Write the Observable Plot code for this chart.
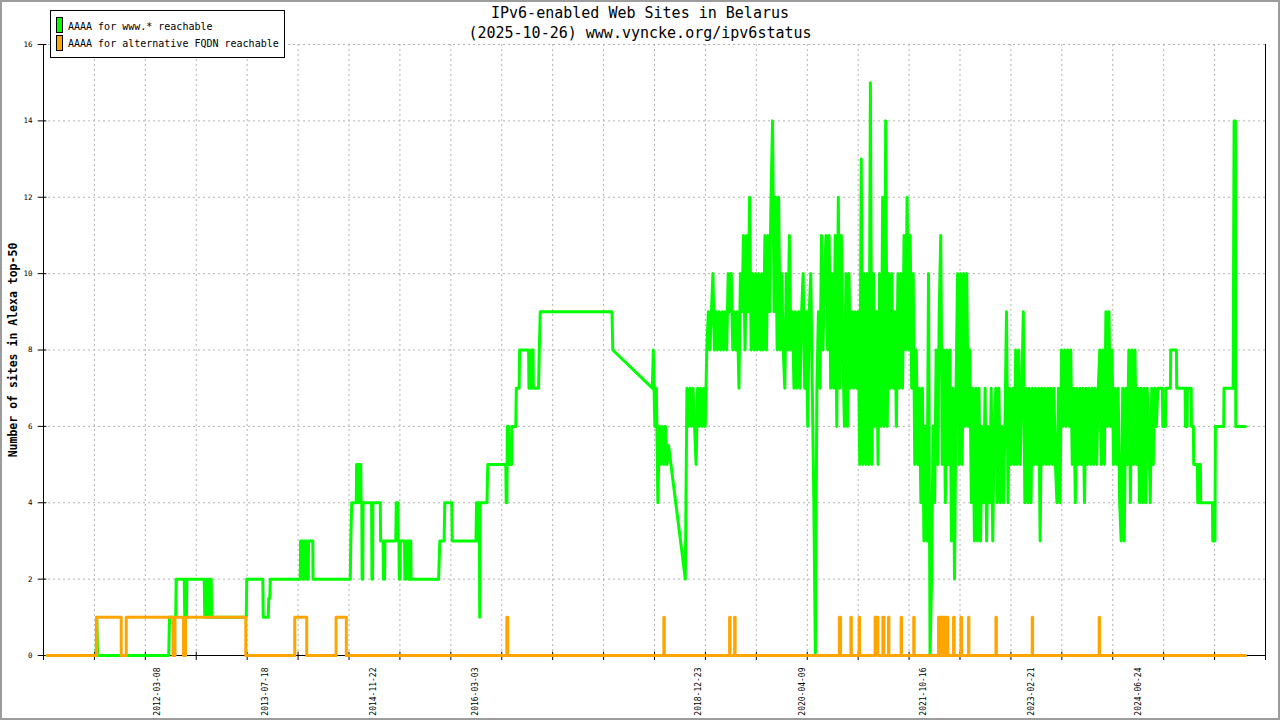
<!DOCTYPE html>
<html>
<head>
<meta charset="utf-8">
<script src="https://cdn.jsdelivr.net/npm/d3@7"></script>
<script src="https://cdn.jsdelivr.net/npm/@observablehq/plot@0.6"></script>
<style>
  html, body { margin: 0; padding: 0; background: #fff; }
  #wrap { position: relative; width: 1280px; height: 720px; background: #fff; overflow: hidden; font-family: "DejaVu Sans Mono", monospace; }
  #chart { position: absolute; left: 0; top: 0; }
  #title { position: absolute; left: 0; top: 3px; width: 1280px; text-align: center; font-size: 15px; line-height: 20px; color: #000; white-space: pre; }
  #ylabel { position: absolute; left: 13px; top: 350px; transform: translate(-50%, -50%) rotate(-90deg); font-size: 11.5px; font-weight: bold; white-space: nowrap; color: #000; }
  #legend { position: absolute; left: 50px; top: 10px; width: 233px; height: 46px; border: 1px solid #000; background: #fff; }
  .sw { position: absolute; left: 5px; width: 5px; height: 14px; border: 1px solid #000; }
  .lt { position: absolute; left: 17px; font-size: 10px; line-height: 12px; white-space: nowrap; color: #000; }
  #frame { position: absolute; left: 0; top: 0; width: 1280px; height: 720px; box-sizing: border-box; border: 2px solid #9c9c9c; pointer-events: none; }
</style>
</head>
<body>
<div id="wrap">
  <div id="chart"></div>
  <div id="title"></div>
  <div id="ylabel"></div>
  <div id="legend"></div>
  <div id="frame"></div>
</div>
<script>
// ---------- text ----------
const titleLines = ["IPv6-enabled Web Sites in Belarus", "(2025-10-26) www.vyncke.org/ipv6status"];
const yTitle = "Number of sites in Alexa top-50";
const seriesNames = ["AAAA for www.* reachable", "AAAA for alternative FQDN reachable"];
const seriesColors = ["#00ff00", "#ffa500"];

// ---------- axes ----------
const yTicks = [0, 2, 4, 6, 8, 10, 12, 14, 16];
const xLabels = ["2012-03-08", "2013-07-18", "2014-11-22", "2016-03-03", "2018-12-23", "2020-04-09", "2021-10-16", "2023-02-21", "2024-06-24"];
const xDomainYears = [2010.7598, 2026.0757];
const xTickCount = 25;

// ---------- green series: www.* (decimal year, sites) ----------
const greenEarly = [
[2010.806,0],[2011.420,0],[2011.427,1],[2011.439,0],
[2012.329,0],[2012.339,1],[2012.417,1],[2012.423,2],[2012.524,2],[2012.530,1],[2012.552,1],[2012.557,2],
[2012.774,2],[2012.781,1],[2012.799,1],[2012.806,2],[2012.818,2],[2012.824,1],[2012.843,1],[2012.849,2],[2012.862,2],[2012.868,1],
[2013.301,1],[2013.307,2],[2013.508,2],[2013.514,1],[2013.577,1],[2013.583,1.5],[2013.596,1.5],[2013.602,2],
[2013.978,2],[2013.982,3],[2014.009,3],[2014.013,2],[2014.028,2],[2014.032,3],[2014.059,3],[2014.063,2],[2014.078,2],[2014.082,3],[2014.135,3],[2014.138,2],
[2014.605,2],[2014.611,3],[2014.623,4],[2014.680,4],[2014.684,5],[2014.696,5],[2014.700,4],[2014.709,4],[2014.713,5],[2014.736,5],[2014.740,4],[2014.749,4],[2014.753,2],[2014.761,2],[2014.765,4],
[2014.872,4],[2014.876,2],[2014.884,2],[2014.888,4],[2014.981,4],[2014.985,3],[2015.016,3],[2015.020,2],[2015.035,2],[2015.039,3],
[2015.175,3],[2015.181,4],[2015.200,4],[2015.204,3],[2015.215,3],[2015.219,2],[2015.229,2],[2015.233,3],
[2015.285,3],[2015.289,2],[2015.300,2],[2015.304,3],[2015.332,3],[2015.336,2],[2015.344,2],[2015.348,3],[2015.363,3],[2015.367,2],
[2015.712,2],[2015.727,3],[2015.781,3],[2015.789,4],[2015.877,4],[2015.883,3],
[2016.180,3],[2016.187,4],[2016.200,4],[2016.207,3],[2016.213,4],[2016.222,4],[2016.227,1],[2016.233,4],[2016.318,4],[2016.328,5],
[2016.554,5],[2016.559,4],[2016.568,4],[2016.573,6],[2016.589,6],[2016.594,5],[2016.627,5],[2016.630,6],[2016.679,6],[2016.686,7],
[2016.721,7],[2016.727,8],[2016.840,8],[2016.844,7],[2016.874,7],[2016.877,8],[2016.895,8],[2016.899,7],[2016.965,7],[2016.974,8],[2016.986,9],
[2017.885,9],[2017.895,8],[2018.391,7]
];
// weekly samples, week index counted from 2018-01-01
const weeksAStart = 21;
const weeksA = [8,6,7,4,6,5,6,5,6,5,5.5];
const greenGap = [[2018.804, 2]];
const weeksBStart = 43;
const weeks2018 = [7,6,7,6,7,6,5,7,6];
const weeks2019 = [7,6,7,6,8,9,8,9,10,8, 9,8,9,8,9,8,9,8,10,9, 10,8,9,8,9,7,10,9,11,8, 11,9,12,8,10,8,10,8,10,8, 10,8,11,8,11,9,12,14,9,12, 8,12];
const weeks2020 = [8,10,8,7,10,8,11,8,9,7, 9,7,9,7,9,10,7,9,6,9, 10,7,4,0,7,9,7,11,8,10, 11,8,11,7,10,7,11,6,12,7, 11,8,6,10,6,10,7,9,7,9, 7,9];
const weeks2021 = [5,13,5,10,5,10,5,15,5,10, 6,9,5,10,6,12,6,14,6,10, 7,10,7,9,6,10,7,10,7,11, 8,12,8,11,7,10,5,8,5,7, 4,7,3,6,3,10,0,2,6,4, 8,5];
const weeks2022 = [9,11,5,8,4,8,5,8,3,7, 2,7,10,5,10,5,10,6,10,6, 8,4,7,3,7,3,7,3,6,4, 7,3,6,4,7,3,6,7,4,7, 4,6,4,6,9,4,7,5,7,5, 8,5];
const weeks2023 = [8,5,7,9,4,7,4,7,4,7, 5,7,5,7,3,7,5,7,5,7, 5,7,5,7,5,4,7,4,8,6, 8,6,8,6,8,5,7,4,7,5, 7,5,7,4,7,5,7,5,7,5, 7,5];
const weeks2024 = [7,8,5,8,5,9,6,9,6,8, 5,7,5,7,4,3,7,3,7,5, 8,4,8,5,8,5,7,4,7,4, 7,4,7,6,4,7,5,7,6,7];
const greenLate = [
[2024.784,7],[2024.788,6],[2024.821,6],[2024.825,7],[2024.884,7],[2024.888,8],[2024.959,8],[2024.963,7],
[2025.068,7],[2025.072,6],[2025.094,6],[2025.097,7],[2025.144,7],[2025.148,6],[2025.172,6],[2025.176,5],
[2025.223,5],[2025.226,4],[2025.244,4],[2025.248,5],[2025.260,5],[2025.264,4],[2025.411,4],[2025.415,3],
[2025.442,3],[2025.448,6],[2025.552,6],[2025.556,7],[2025.670,7],[2025.676,10.5],[2025.682,14],[2025.699,14],
[2025.703,6],[2025.824,6]
];

// ---------- orange series: alternative FQDN (intervals with value 1, else 0) ----------
const orangeSpan = [2010.806, 2025.824];
const orangeOn = [
[2011.427,2011.734],[2011.797,2012.383],[2012.408,2012.515],[2012.540,2013.295],[2013.909,2014.059],[2014.427,2014.555],
[2016.567,2016.579],[2018.535,2018.541],[2019.359,2019.365],[2019.422,2019.428],[2020.735,2020.750],[2020.879,2020.885],
[2020.983,2020.987],[2021.183,2021.217],[2021.280,2021.293],[2021.351,2021.356],[2021.509,2021.514],[2021.667,2021.672],
[2021.978,2021.988],[2021.998,2022.008],[2022.018,2022.028],[2022.038,2022.048],[2022.058,2022.068],[2022.078,2022.095],
[2022.166,2022.174],[2022.258,2022.267],[2022.354,2022.358],[2022.697,2022.703],[2023.152,2023.157],[2023.991,2023.996]
];

// ---------- build ----------
const toDate = y => new Date((y - 1970) * 365.25 * 864e5);
const weekDate = k => new Date(Date.UTC(2018, 0, 1) + k * 7 * 864e5);

const green = [
  ...greenEarly.map(([t, v]) => ({date: toDate(t), v})),
  ...weeksA.map((v, i) => ({date: weekDate(weeksAStart + i), v})),
  ...greenGap.map(([t, v]) => ({date: toDate(t), v})),
  ...[...weeks2018, ...weeks2019, ...weeks2020, ...weeks2021, ...weeks2022, ...weeks2023, ...weeks2024]
      .map((v, i) => ({date: weekDate(weeksBStart + i), v})),
  ...greenLate.map(([t, v]) => ({date: toDate(t), v}))
];

const orange = [{date: toDate(orangeSpan[0]), v: 0}];
for (const [a, b] of orangeOn) {
  orange.push({date: toDate(a), v: 0}, {date: toDate(a), v: 1}, {date: toDate(b), v: 1}, {date: toDate(b), v: 0});
}
orange.push({date: toDate(orangeSpan[1]), v: 0});

const x0 = toDate(xDomainYears[0]);
const x1 = toDate(xDomainYears[1]);
const xTicks = d3.range(xTickCount).map(i => new Date(+x0 + i * (x1 - x0) / (xTickCount - 1)));

const W = 1280, H = 720, mL = 43, mR = 15, mT = 44, mB = 65;
const pxPerMs = (W - mL - mR) / (x1 - x0);
const pxPerUnit = (H - mT - mB) / 16;
const mono = "DejaVu Sans Mono";
const grid = {stroke: "#b4b4b4", strokeDasharray: "2,3", strokeWidth: 1};

const chart = Plot.plot({
  width: W, height: H,
  marginLeft: mL, marginRight: mR, marginTop: mT, marginBottom: mB,
  style: {background: "white", overflow: "visible"},
  x: {type: "utc", domain: [x0, x1], axis: null},
  y: {domain: [0, 16], axis: null},
  marks: [
    Plot.ruleY(yTicks.filter(v => v > 0), grid),
    Plot.ruleX(xTicks.slice(1, -1), grid),
    Plot.ruleX([x0, x1], {stroke: "black", strokeWidth: 1}),
    Plot.ruleY([0], {stroke: "black", strokeWidth: 1}),
    Plot.ruleY(yTicks, {x1: () => new Date(+x0 - 5.3 / pxPerMs), x2: () => new Date(+x0 + 3.4 / pxPerMs), stroke: "black"}),
    Plot.ruleX(xTicks, {y1: -5 / pxPerUnit, y2: 3.3 / pxPerUnit, stroke: "black"}),
    Plot.text(yTicks, {x: () => x0, y: d => d, text: d => String(d), textAnchor: "end", dx: -11, fontSize: 7.5, fontFamily: mono, fill: "black"}),
    Plot.text(xLabels, {x: d => new Date(d), y: () => 0, text: d => d, rotate: -90, textAnchor: "end", dy: 12, fontSize: 8, fontFamily: mono, fill: "black"}),
    Plot.line(green, {x: "date", y: "v", stroke: seriesColors[0], strokeWidth: 3, curve: "linear"}),
    Plot.line(orange, {x: "date", y: "v", stroke: seriesColors[1], strokeWidth: 3, curve: "linear"})
  ]
});
document.getElementById("chart").appendChild(chart);

document.getElementById("title").textContent = titleLines.join("\n");
document.getElementById("ylabel").textContent = yTitle;
const legend = document.getElementById("legend");
seriesNames.forEach((name, i) => {
  const sw = document.createElement("div");
  sw.className = "sw";
  sw.style.top = (6 + i * 17.5) + "px";
  sw.style.background = seriesColors[i];
  legend.appendChild(sw);
  const t = document.createElement("div");
  t.className = "lt";
  t.style.top = (9.5 + i * 17) + "px";
  t.textContent = name;
  legend.appendChild(t);
});
</script>
</body>
</html>
